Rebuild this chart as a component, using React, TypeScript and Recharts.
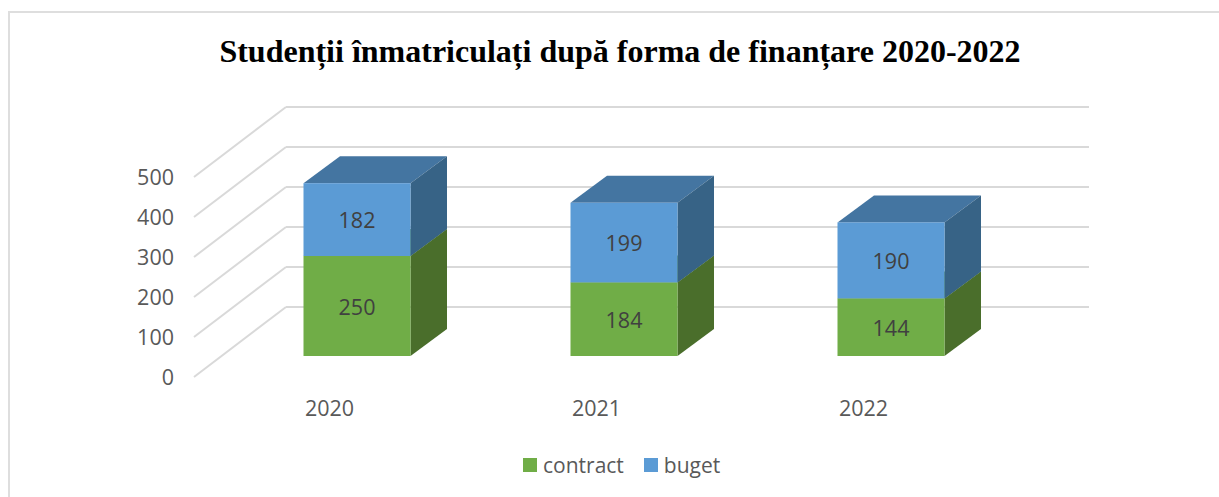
import React from "react";
import { BarChart, Bar, XAxis, YAxis, CartesianGrid, Legend, LabelList } from "recharts";

const years = ["2020", "2021", "2022"];
const contractValues = [250, 184, 144];
const bugetValues = [182, 199, 190];
const yTicks = [0, 100, 200, 300, 400, 500];

const data = years.map((year, i) => ({ year, contract: contractValues[i], buget: bugetValues[i] }));

const FONT = "'Open Sans', sans-serif";
const SHIFT_X = 27.5;
const SHIFT_Y = -21;
const DEPTH_X = 36.5;
const DEPTH_Y = -27;
const WALL_X = 92;
const WALL_Y = -70;

const makeShape = (front: string, side: string, top: string) => (props: any) => {
  const x = props.x + SHIFT_X;
  const y = props.y + SHIFT_Y;
  const w = props.width;
  const h = props.height;
  const p = (pts: number[][]) => pts.map((q) => q.join(",")).join(" ");
  return (
    <g>
      <polygon fill={top} points={p([[x, y], [x + DEPTH_X, y + DEPTH_Y], [x + w + DEPTH_X, y + DEPTH_Y], [x + w, y]])} />
      <polygon fill={side} points={p([[x + w, y], [x + w + DEPTH_X, y + DEPTH_Y], [x + w + DEPTH_X, y + h + DEPTH_Y], [x + w, y + h]])} />
      <rect x={x} y={y} width={w} height={h} fill={front} />
    </g>
  );
};

const barLabel = (props: any) => (
  <text
    x={props.x + SHIFT_X + props.width / 2}
    y={props.y + SHIFT_Y + props.height / 2}
    textAnchor="middle"
    dominantBaseline="central"
    fontFamily={FONT}
    fontSize={21.5}
    fill="#404040"
  >
    {props.value}
  </text>
);

const gridLine = (props: any) => {
  const { x1, x2, y1, index } = props;
  const bx = x1 - 2 + WALL_X;
  const by = y1 + WALL_Y;
  return (
    <g key={index} stroke="#d9d9d9" strokeWidth={2} fill="none">
      <line x1={x1 - 2} y1={y1} x2={bx} y2={by} />
      <line x1={bx} y1={by} x2={x2 + 92} y2={by} />
    </g>
  );
};

const legendContent = (props: any) => (
  <div style={{ display: "flex", fontFamily: FONT, fontSize: 21, color: "#595959", lineHeight: "24px" }}>
    {(props.payload || []).map((item: any) => (
      <div key={item.value} style={{ display: "flex", alignItems: "center", marginRight: 20 }}>
        <span style={{ width: 14, height: 14, background: item.color, marginRight: 6, display: "inline-block" }} />
        <span>{item.value}</span>
      </div>
    ))}
  </div>
);

export default function App() {
  return (
    <div style={{ position: "absolute", left: 0, top: 0, width: 1219, height: 497, overflow: "hidden", background: "#fff" }}>
      <div style={{ position: "absolute", left: 8, top: 11, width: 1215, height: 490, borderLeft: "2px solid #dedede", borderTop: "2px solid #dedede" }} />
      <div
        style={{
          position: "absolute",
          left: 0,
          top: 29,
          width: 1240,
          textAlign: "center",
          fontFamily: "'Liberation Serif', serif",
          fontWeight: 700,
          fontSize: 32,
          color: "#000",
          lineHeight: "44px",
        }}
      >
        Studenții înmatriculați după forma de finanțare 2020-2022
      </div>
      <BarChart
        width={1219}
        height={497}
        data={data}
        margin={{ top: 177, right: 222, bottom: 36, left: 0 }}
        style={{ position: "absolute", left: 0, top: 0 }}
      >
        <CartesianGrid vertical={false} horizontal={gridLine} />
        <XAxis
          dataKey="year"
          axisLine={false}
          tickLine={false}
          tickSize={0}
          tickMargin={24}
          height={60}
          tick={{ fill: "#595959", fontFamily: FONT, fontSize: 21.5 }}
        />
        <YAxis
          width={196}
          domain={[0, 500]}
          ticks={yTicks}
          axisLine={false}
          tickLine={false}
          tickSize={0}
          tickMargin={22}
          tick={{ fill: "#595959", fontFamily: FONT, fontSize: 21.5 }}
        />
        <Legend
          content={legendContent}
          layout="horizontal"
          itemSorter={null}
          wrapperStyle={{ position: "absolute", left: 523, top: 453, width: 300, bottom: "auto", right: "auto" }}
        />
        <Bar dataKey="contract" stackId="a" barSize={107} fill="#70AD47" isAnimationActive={false} shape={makeShape("#70AD47", "#4A6E2B", "#5A8A3A")}>
          <LabelList dataKey="contract" content={barLabel} />
        </Bar>
        <Bar dataKey="buget" stackId="a" barSize={107} fill="#5B9BD5" isAnimationActive={false} shape={makeShape("#5B9BD5", "#376386", "#4475A1")}>
          <LabelList dataKey="buget" content={barLabel} />
        </Bar>
      </BarChart>
    </div>
  );
}
